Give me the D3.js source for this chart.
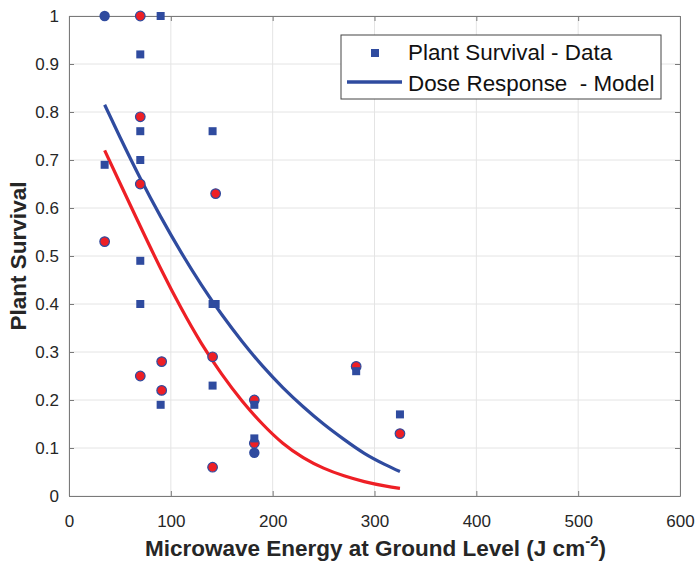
<!DOCTYPE html>
<html>
<head>
<meta charset="utf-8">
<script src="https://cdn.jsdelivr.net/npm/d3@7"></script>
<style>
  body { margin: 0; background: #fff; }
  svg { display: block; font-family: "Liberation Sans", Arial, sans-serif; }
</style>
</head>
<body>
<div id="chart"></div>
<script>
// measured plant survival (squares)
const squareX = [35, 70, 70, 70, 70, 70, 90, 90, 141, 141, 141, 144, 182, 182, 282, 325];
const squareY = [0.69, 0.92, 0.76, 0.70, 0.49, 0.40, 1.0, 0.19, 0.76, 0.23, 0.40, 0.40, 0.19, 0.12, 0.26, 0.17];

// red circles
const redX = [35, 70, 70, 70, 70, 91, 91, 141, 141, 144, 182, 182, 282, 325];
const redY = [0.53, 1.0, 0.79, 0.65, 0.25, 0.28, 0.22, 0.29, 0.06, 0.63, 0.20, 0.11, 0.27, 0.13];

// blue circles
const blueDotX = [35, 182];
const blueDotY = [1.0, 0.09];

// dose response curves
const curveX = [35, 50, 70, 90, 110, 130, 150, 170, 190, 210, 230, 250, 270, 290, 310, 325];
const blueCurveY = [0.815, 0.748, 0.662, 0.582, 0.508, 0.44, 0.378, 0.322, 0.271, 0.226, 0.186, 0.15, 0.118, 0.089, 0.066, 0.051];
const redCurveY = [0.72, 0.652, 0.562, 0.474, 0.392, 0.318, 0.254, 0.198, 0.15, 0.11, 0.08, 0.058, 0.042, 0.03, 0.021, 0.016];

const xTicks = [0, 100, 200, 300, 400, 500, 600];
const yTicks = [0, 0.1, 0.2, 0.3, 0.4, 0.5, 0.6, 0.7, 0.8, 0.9, 1];

const width = 698, height = 566;
const margin = { top: 16, right: 18, bottom: 70, left: 69 };
const w = width - margin.left - margin.right;
const h = height - margin.top - margin.bottom;

const blue = '#2f4b9f';
const red = '#ee1f25';

const svg = d3.select('#chart').append('svg')
  .attr('width', width)
  .attr('height', height);

const g = svg.append('g')
  .attr('transform', `translate(${margin.left},${margin.top})`);

const x = d3.scaleLinear().domain([0, 600]).range([0, w]);
const y = d3.scaleLinear().domain([0, 1]).range([h, 0]);

// grid
g.append('g').selectAll('line.gx')
  .data(xTicks).enter().append('line')
  .attr('x1', d => x(d)).attr('x2', d => x(d))
  .attr('y1', 0).attr('y2', h)
  .attr('stroke', '#e4e4e4');
g.append('g').selectAll('line.gy')
  .data(yTicks).enter().append('line')
  .attr('x1', 0).attr('x2', w)
  .attr('y1', d => y(d)).attr('y2', d => y(d))
  .attr('stroke', '#e4e4e4');

// axes (inward ticks, box)
const axisColor = '#7a7a7a';
function styleAxis(sel) {
  sel.select('.domain').attr('stroke', axisColor);
  sel.selectAll('.tick line').attr('stroke', axisColor);
  sel.selectAll('.tick text').attr('fill', '#262626').attr('font-size', 17);
}

g.append('g')
  .attr('transform', `translate(0,${h})`)
  .call(d3.axisBottom(x).tickValues(xTicks).tickSize(-5).tickSizeOuter(0).tickPadding(19))
  .call(styleAxis);

g.append('g')
  .call(d3.axisLeft(y).tickValues(yTicks).tickSize(-5).tickSizeOuter(0).tickPadding(10)
    .tickFormat(d => d3.format('~g')(d)))
  .call(styleAxis);

g.append('g')
  .call(d3.axisTop(x).tickValues(xTicks).tickSize(-5).tickSizeOuter(0).tickFormat(''))
  .call(styleAxis);

g.append('g')
  .attr('transform', `translate(${w},0)`)
  .call(d3.axisRight(y).tickValues(yTicks).tickSize(-5).tickSizeOuter(0).tickFormat(''))
  .call(styleAxis);

// model curves
const line = d3.line()
  .x(d => x(d[0]))
  .y(d => y(d[1]))
  .curve(d3.curveNatural);

g.append('path')
  .datum(curveX.map((v, i) => [v, redCurveY[i]]))
  .attr('fill', 'none').attr('stroke', red).attr('stroke-width', 3.2)
  .attr('d', line);

g.append('path')
  .datum(curveX.map((v, i) => [v, blueCurveY[i]]))
  .attr('fill', 'none').attr('stroke', blue).attr('stroke-width', 3.2)
  .attr('d', line);

// points
g.append('g').selectAll('circle.b')
  .data(blueDotX.map((v, i) => [v, blueDotY[i]]))
  .enter().append('circle')
  .attr('cx', d => x(d[0])).attr('cy', d => y(d[1]))
  .attr('r', 5.2)
  .attr('fill', blue);

g.append('g').selectAll('circle.r')
  .data(redX.map((v, i) => [v, redY[i]]))
  .enter().append('circle')
  .attr('cx', d => x(d[0])).attr('cy', d => y(d[1]))
  .attr('r', 4.8)
  .attr('fill', red)
  .attr('stroke', blue).attr('stroke-width', 1.2);

const sq = 8;
g.append('g').selectAll('rect')
  .data(squareX.map((v, i) => [v, squareY[i]]))
  .enter().append('rect')
  .attr('x', d => x(d[0]) - sq / 2).attr('y', d => y(d[1]) - sq / 2)
  .attr('width', sq).attr('height', sq)
  .attr('fill', blue);

// legend
const lg = svg.append('g').attr('transform', 'translate(341,35)');
lg.append('rect')
  .attr('width', 320).attr('height', 64)
  .attr('fill', '#fff').attr('stroke', '#444').attr('stroke-width', 1);
lg.append('rect')
  .attr('x', 34 - sq / 2).attr('y', 18 - sq / 2)
  .attr('width', sq).attr('height', sq)
  .attr('fill', blue);
lg.append('line')
  .attr('x1', 6).attr('x2', 61).attr('y1', 47).attr('y2', 47)
  .attr('stroke', blue).attr('stroke-width', 3.5);
lg.append('text')
  .attr('x', 67).attr('y', 25)
  .attr('font-size', 22.4).attr('fill', '#111')
  .text('Plant Survival - Data');
lg.append('text')
  .attr('x', 67).attr('y', 56)
  .attr('font-size', 22.4).attr('fill', '#111')
  .attr('xml:space', 'preserve')
  .text('Dose Response  - Model');

// axis titles
const xt = svg.append('text')
  .attr('x', margin.left + x(300) + 1)
  .attr('y', 556)
  .attr('text-anchor', 'middle')
  .attr('font-size', 22.5).attr('font-weight', 'bold').attr('fill', '#262626');
xt.append('tspan').text('Microwave Energy at Ground Level (J cm');
xt.append('tspan').attr('font-size', 15).attr('dy', -10).text('-2');
xt.append('tspan').attr('dy', 10).text(')');

svg.append('text')
  .attr('transform', `translate(26,${margin.top + y(0.5)})rotate(-90)`)
  .attr('text-anchor', 'middle')
  .attr('font-size', 22.5).attr('font-weight', 'bold').attr('fill', '#262626')
  .text('Plant Survival');
</script>
</body>
</html>
